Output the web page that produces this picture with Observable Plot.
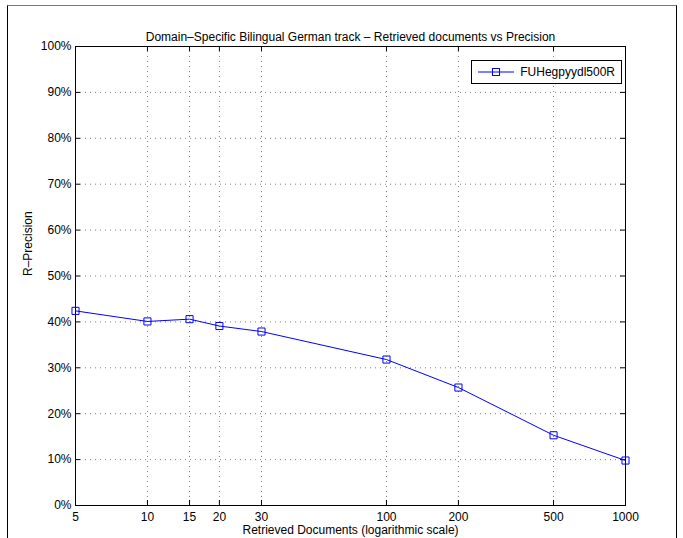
<!DOCTYPE html>
<html>
<head>
<meta charset="utf-8">
<script src="https://cdn.jsdelivr.net/npm/d3@7"></script>
<script src="https://cdn.jsdelivr.net/npm/@observablehq/plot@0.6"></script>
<style>
  html, body { margin: 0; padding: 0; background: #fff; }
  #wrap { position: relative; width: 683px; height: 538px; overflow: hidden; font-family: "Liberation Sans", Arial, Helvetica, sans-serif; }
  #figframe { position: absolute; left: 7px; top: 5px; width: 670px; height: 560px; border-left: 1px solid #000; border-right: 1px solid #000; border-top: 1px solid #777; box-sizing: border-box; pointer-events: none; }
  #legend { position: absolute; background: #fff; border: 1px solid #000; display: flex; align-items: center; font-size: 12px; color: #000; padding: 0 6px 0 4px; height: 24px; box-sizing: border-box; }
  #legend svg { margin-right: 4px; }
</style>
</head>
<body>
<div id="wrap"><div id="figframe"></div></div>
<script>
// ---- data ----
const docs = [5, 10, 15, 20, 30, 100, 200, 500, 1000];
const rprec = [0.424, 0.401, 0.406, 0.391, 0.379, 0.318, 0.257, 0.153, 0.098];
const xTicks = [5, 10, 15, 20, 30, 100, 200, 500, 1000];
const yTicks = [0, 0.1, 0.2, 0.3, 0.4, 0.5, 0.6, 0.7, 0.8, 0.9, 1.0];
const seriesName = "FUHegpyydl500R";
const titleText = "Domain\u2013Specific Bilingual German track \u2013 Retrieved documents vs Precision";
const xLabel = "Retrieved Documents (logarithmic scale)";
const yLabel = "R\u2013Precision";

const data = docs.map((d, i) => ({docs: d, prec: rprec[i]}));

const W = 683, H = 538;
const mL = 75, mR = 58, mT = 46, mB = 33;
const pw = W - mL - mR, ph = H - mT - mB;
const tk = 5;
const blue = "#0000ff";
const gridColor = "#7f7f7f";

const chart = Plot.plot({
  width: W,
  height: H,
  marginLeft: mL, marginRight: mR, marginTop: mT, marginBottom: mB,
  style: {fontFamily: "'Liberation Sans', Arial, Helvetica, sans-serif", fontSize: "12px", color: "#000", background: "transparent", overflow: "visible"},
  x: {type: "log", domain: [5, 1000], axis: null},
  y: {domain: [0, 1], axis: null},
  marks: [
    // dotted grid
    Plot.ruleX(xTicks.slice(1, -1), {x: d => d, stroke: gridColor, strokeDasharray: "1,4", strokeWidth: 1}),
    Plot.ruleY(yTicks.slice(1, -1), {y: d => d, stroke: gridColor, strokeDasharray: "1,4", strokeWidth: 1}),
    // inward ticks
    Plot.tickX(xTicks, {x: d => d, stroke: "#000", insetTop: ph - tk}),
    Plot.tickX(xTicks, {x: d => d, stroke: "#000", insetBottom: ph - tk}),
    Plot.tickY(yTicks, {y: d => d, stroke: "#000", insetRight: pw - tk}),
    Plot.tickY(yTicks, {y: d => d, stroke: "#000", insetLeft: pw - tk}),
    // tick labels
    Plot.text(xTicks, {x: d => d, text: d => String(d), frameAnchor: "bottom", lineAnchor: "middle", dy: 12, fontSize: 12, fill: "#000"}),
    Plot.text(yTicks, {y: d => d, text: d => Math.round(d * 100) + "%", frameAnchor: "left", textAnchor: "end", lineAnchor: "middle", dx: -4, fontSize: 12, fill: "#000"}),
    Plot.frame({stroke: "#000", strokeWidth: 1}),
    // series
    Plot.line(data, {x: "docs", y: "prec", stroke: blue, strokeWidth: 1}),
    Plot.dot(data, {x: "docs", y: "prec", symbol: "square", r: 4, stroke: blue, strokeWidth: 1, fill: "none"}),
    // title and axis titles
    Plot.text([titleText], {text: d => d, frameAnchor: "top", lineAnchor: "middle", dy: -9, fontSize: 12, fill: "#000"}),
    Plot.text([xLabel], {text: d => d, frameAnchor: "bottom", lineAnchor: "middle", dy: 25, fontSize: 12, fill: "#000"}),
    Plot.text([yLabel], {text: d => d, frameAnchor: "left", lineAnchor: "middle", dx: -47, rotate: -90, fontSize: 12, fill: "#000"})
  ]
});

const wrap = document.getElementById("wrap");
wrap.insertBefore(chart, wrap.firstChild);
chart.style.position = "absolute";
chart.style.left = "0px";
chart.style.top = "0px";

// legend
const legend = document.createElement("div");
legend.id = "legend";
const ns = "http://www.w3.org/2000/svg";
const sw = document.createElementNS(ns, "svg");
sw.setAttribute("width", 40); sw.setAttribute("height", 12);
const ln = document.createElementNS(ns, "line");
ln.setAttribute("x1", 2); ln.setAttribute("x2", 38); ln.setAttribute("y1", 6); ln.setAttribute("y2", 6);
ln.setAttribute("stroke", blue);
const sq = document.createElementNS(ns, "rect");
sq.setAttribute("x", 16.5); sq.setAttribute("y", 2.5); sq.setAttribute("width", 7); sq.setAttribute("height", 7);
sq.setAttribute("fill", "none"); sq.setAttribute("stroke", blue);
sw.appendChild(ln); sw.appendChild(sq);
legend.appendChild(sw);
const lt = document.createElement("span");
lt.textContent = seriesName;
legend.appendChild(lt);
wrap.appendChild(legend);
legend.style.top = (mT + 14) + "px";
legend.style.right = (mR + 3) + "px";
</script>
</body>
</html>
